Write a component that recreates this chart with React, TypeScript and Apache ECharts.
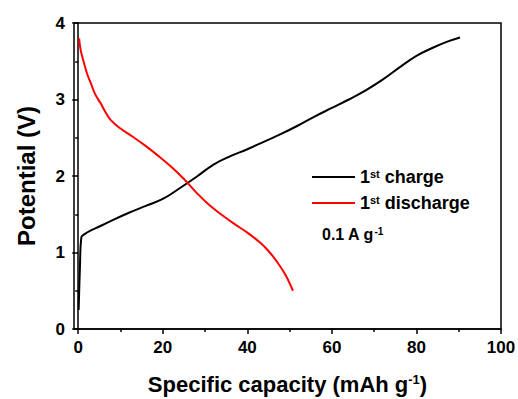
import React, { useEffect, useRef } from "react";
import * as echarts from "echarts";

const chargeX = [0.1, 0.4, 0.75, 1.5, 3, 5, 8, 12, 16, 20, 24, 28, 32, 36, 40, 44, 48, 52, 56, 60, 64, 68, 72, 76, 80, 84, 87, 90.3];
const chargeY = [0.25, 0.8, 1.2, 1.24, 1.29, 1.34, 1.42, 1.52, 1.61, 1.7, 1.84, 1.99, 2.15, 2.26, 2.35, 2.45, 2.55, 2.66, 2.78, 2.89, 3.0, 3.12, 3.26, 3.42, 3.57, 3.68, 3.75, 3.81];

const dischargeX = [0.2, 0.6, 1.4, 2.2, 3, 4, 5.3, 6.5, 7.7, 10, 13, 16, 19, 22, 25, 28, 31, 34, 37, 40, 43, 45, 47, 49, 50.8];
const dischargeY = [3.8, 3.64, 3.47, 3.32, 3.21, 3.07, 2.95, 2.83, 2.73, 2.62, 2.51, 2.39, 2.26, 2.12, 1.96, 1.78, 1.62, 1.49, 1.37, 1.26, 1.13, 1.02, 0.88, 0.71, 0.5];

const xMajorTicks = [0, 20, 40, 60, 80, 100];
const xMinorTicks = [10, 30, 50, 70, 90];

const seriesNames = ["1st charge", "1st discharge"];
const legendLabels: Record<string, string> = {
  "1st charge": "1{sup|st} charge",
  "1st discharge": "1{sup|st} discharge",
};

const FONT = "Liberation Sans";

export default function App() {
  const ref = useRef<HTMLDivElement>(null);
  useEffect(() => {
    if (!ref.current) return;
    const chart = echarts.init(ref.current, undefined, { renderer: "svg" });
    const axisLine = { show: true, lineStyle: { color: "#000", width: 1.5 } };
    const labelStyle = { color: "#000", fontFamily: FONT, fontWeight: "bold" as const, fontSize: 17 };
    chart.setOption({
      animation: false,
      backgroundColor: "#fff",
      grid: {
        left: 74,
        right: 17,
        top: 23,
        bottom: 70,
        show: true,
        borderColor: "#000",
        borderWidth: 1.5,
        outerBoundsMode: "none",
      },
      legend: {
        orient: "vertical",
        left: 311,
        top: 168,
        padding: 0,
        itemWidth: 43,
        itemHeight: 14,
        itemGap: 8,
        data: seriesNames,
        formatter: (n: string) => legendLabels[n],
        itemStyle: { opacity: 0 },
        textStyle: {
          color: "#000",
          fontFamily: FONT,
          fontWeight: "bold",
          fontSize: 18,
          rich: {
            sup: { fontSize: 11, fontWeight: "bold", fontFamily: FONT, color: "#000", verticalAlign: "top", padding: [0, 0, 6, 0] },
          },
        },
      },
      graphic: [
        {
          type: "text",
          left: 322,
          top: 226,
          style: {
            text: "0.1 A g{sup|-1}",
            fill: "#000",
            font: `bold 16px "${FONT}"`,
            rich: {
              sup: { fontSize: 10, fontWeight: "bold", fontFamily: FONT, fill: "#000", verticalAlign: "top", padding: [0, 0, 5, 0] },
            },
          },
        },
      ],
      xAxis: [
        {
          type: "value",
          min: -1,
          max: 100,
          position: "bottom",
          name: "Specific capacity (mAh g{sup|-1})",
          nameLocation: "middle",
          nameGap: 44,
          nameTextStyle: {
            color: "#000",
            fontFamily: FONT,
            fontWeight: "bold",
            fontSize: 22,
            rich: { sup: { fontSize: 13, fontWeight: "bold", fontFamily: FONT, color: "#000", verticalAlign: "top", padding: [0, 0, 8, 0] } },
          },
          axisLine,
          axisTick: { show: true, length: 5, customValues: xMajorTicks, lineStyle: { color: "#000", width: 1.5 } },
          axisLabel: { ...labelStyle, margin: 10, customValues: xMajorTicks },
          splitLine: { show: false },
        },
        {
          type: "value",
          min: -1,
          max: 100,
          position: "bottom",
          axisLine: { show: false },
          axisTick: { show: true, length: 3, customValues: xMinorTicks, lineStyle: { color: "#000", width: 1.5 } },
          axisLabel: { show: false },
          splitLine: { show: false },
        },
      ],
      yAxis: {
        type: "value",
        min: 0,
        max: 4,
        interval: 1,
        name: "Potential (V)",
        nameLocation: "middle",
        nameGap: 36,
        nameTextStyle: { color: "#000", fontFamily: FONT, fontWeight: "bold", fontSize: 24 },
        axisLine,
        axisTick: { show: true, length: 6, lineStyle: { color: "#000", width: 1.5 } },
        minorTick: { show: true, splitNumber: 2, length: 3, lineStyle: { color: "#000", width: 1.5 } },
        axisLabel: { ...labelStyle, margin: 9 },
        splitLine: { show: false },
        minorSplitLine: { show: false },
      },
      series: [
        {
          name: seriesNames[0],
          type: "line",
          xAxisIndex: 0,
          data: chargeX.map((x, i) => [x, chargeY[i]]),
          showSymbol: false,
          symbol: "none",
          smooth: 0.4,
          lineStyle: { color: "#000", width: 2 },
          itemStyle: { color: "#000" },
        },
        {
          name: seriesNames[1],
          type: "line",
          xAxisIndex: 0,
          data: dischargeX.map((x, i) => [x, dischargeY[i]]),
          showSymbol: false,
          symbol: "none",
          smooth: 0.4,
          lineStyle: { color: "#ff0000", width: 2 },
          itemStyle: { color: "#ff0000" },
        },
      ],
    });
    return () => chart.dispose();
  }, []);
  return <div ref={ref} style={{ position: "absolute", left: 0, top: 0, width: 518, height: 399 }} />;
}
